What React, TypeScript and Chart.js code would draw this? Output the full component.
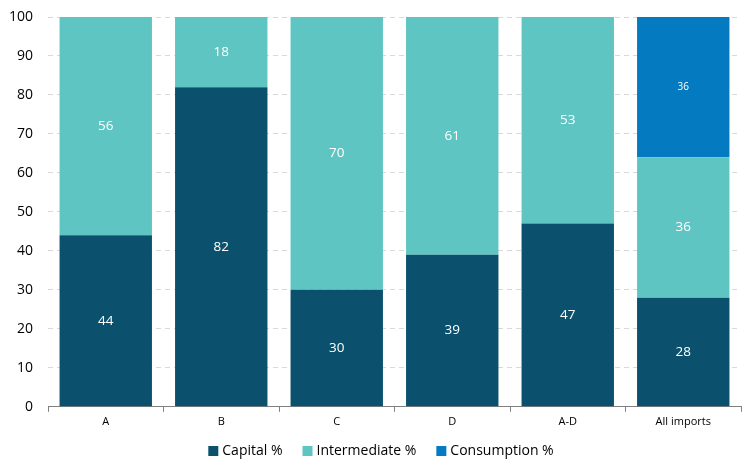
import React, { useEffect, useRef } from "react";
import { Chart, registerables } from "chart.js";

Chart.register(...registerables);

const categories = ["A", "B", "C", "D", "A-D", "All imports"];
const capital = [44, 82, 30, 39, 47, 28];
const intermediate = [56, 18, 70, 61, 53, 36];
const consumption = [0, 0, 0, 0, 0, 36];
const yTicks = [0, 10, 20, 30, 40, 50, 60, 70, 80, 90, 100];

const FONT = "'Open Sans', 'Noto Sans', sans-serif";

// White value labels centred in each stacked segment
const valueLabels = {
  id: "valueLabels",
  afterDatasetsDraw(chart: any) {
    const ctx = chart.ctx;
    ctx.save();
    ctx.textAlign = "center";
    ctx.textBaseline = "middle";
    ctx.fillStyle = "#ffffff";
    chart.data.datasets.forEach((ds: any, di: number) => {
      const meta = chart.getDatasetMeta(di);
      const size = di === 2 ? 10 : 13.5;
      ctx.font = `${size}px ${FONT}`;
      meta.data.forEach((el: any, i: number) => {
        const v = ds.data[i];
        if (!v) return;
        const y = (el.y + el.base) / 2;
        ctx.fillText(String(v), el.x, y);
      });
    });
    ctx.restore();
  },
};

// Compact legend row under the x axis
const bottomLegend = {
  id: "bottomLegend",
  afterDraw(chart: any) {
    const ctx = chart.ctx;
    const box = 10;
    const boxGap = 4;
    const itemGap = 20;
    const cy = 451;
    ctx.save();
    ctx.font = `14px ${FONT}`;
    ctx.textBaseline = "middle";
    ctx.textAlign = "left";
    const items = chart.data.datasets.map((ds: any) => ({
      label: ds.label,
      color: ds.backgroundColor,
      w: ctx.measureText(ds.label).width,
    }));
    const total =
      items.reduce((s: number, it: any) => s + box + boxGap + it.w, 0) + itemGap * (items.length - 1);
    let x = chart.width / 2 + 3 - total / 2;
    items.forEach((it: any) => {
      ctx.fillStyle = it.color;
      ctx.fillRect(x, cy - box / 2, box, box);
      x += box + boxGap;
      ctx.fillStyle = "#000000";
      ctx.fillText(it.label, x, cy);
      x += it.w + itemGap;
    });
    ctx.restore();
  },
};

export default function App() {
  const ref = useRef<HTMLCanvasElement | null>(null);

  useEffect(() => {
    if (!ref.current) return;
    const chart = new Chart(ref.current, {
      type: "bar",
      data: {
        labels: categories,
        datasets: [
          { label: "Capital %", data: capital, backgroundColor: "#0B516E" },
          { label: "Intermediate %", data: intermediate, backgroundColor: "#5FC5C2" },
          { label: "Consumption %", data: consumption, backgroundColor: "#047AC0" },
        ],
      },
      options: {
        animation: false,
        responsive: false,
        maintainAspectRatio: false,
        layout: { padding: { top: 17, right: 15, left: 0, bottom: 42 } },
        datasets: {
          bar: { barPercentage: 0.8, categoryPercentage: 1.0 },
        },
        scales: {
          x: {
            stacked: true,
            grid: {
              offset: true,
              drawOnChartArea: false,
              drawTicks: true,
              tickLength: 5,
              color: "#808080",
            },
            border: { display: true, color: "#808080" },
            ticks: { color: "#000000", font: { family: FONT, size: 11 }, padding: 3 },
          },
          y: {
            stacked: true,
            min: 0,
            max: 100,
            afterBuildTicks(axis: any) {
              axis.ticks = yTicks.map((v) => ({ value: v }));
            },
            afterFit(axis: any) {
              axis.width = 48;
              axis.paddingTop = 0;
              axis.paddingBottom = 0;
            },
            grid: { color: "#d9d9d9", drawTicks: false },
            border: { display: false, dash: [5, 4] },
            ticks: { color: "#000000", font: { family: FONT, size: 14 }, padding: 15 },
          },
        },
        plugins: {
          legend: { display: false },
          tooltip: { enabled: false },
        },
      },
      plugins: [valueLabels, bottomLegend],
    });
    return () => chart.destroy();
  }, []);

  return (
    <div style={{ position: "fixed", left: 0, top: 0, width: 756, height: 473, background: "#fff" }}>
      <canvas ref={ref} width={756} height={473} style={{ display: "block" }} />
    </div>
  );
}
